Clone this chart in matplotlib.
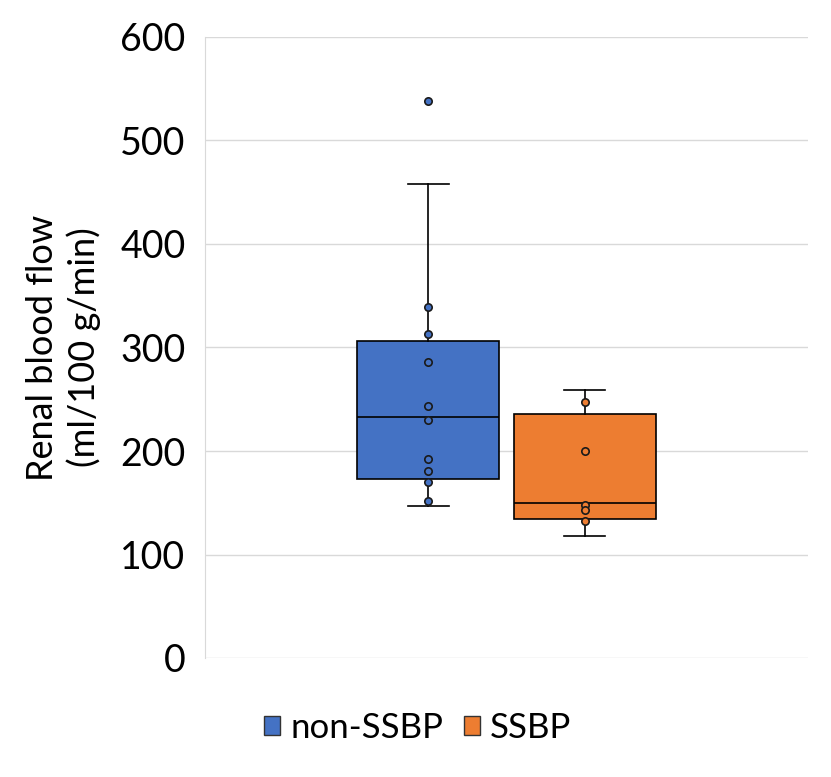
"""Renal blood flow box plot: non-SSBP vs SSBP (Excel-style box & whisker)."""
import matplotlib
matplotlib.use("Agg")
import matplotlib.pyplot as plt
from matplotlib.patches import Patch

GROUPS = ["non-SSBP", "SSBP"]
COLORS = ["#4472C4", "#ED7D31"]

# box statistics (whisker low, q1, median, q3, whisker high)
WHISLO = [147, 118]
Q1 = [173, 134]
MEDIAN = [233, 150]
Q3 = [306, 236]
WHISHI = [458, 259]

# individual points
NON_SSBP_PTS = [538, 339, 313, 286, 243, 230, 192, 181, 170, 152]
SSBP_PTS = [247, 200, 148, 143, 132]
POINTS = [NON_SSBP_PTS, SSBP_PTS]

YTICKS = [0, 100, 200, 300, 400, 500, 600]

plt.rcParams["font.family"] = ["Lato", "DejaVu Sans"]

fig = plt.figure(figsize=(8.31, 7.77), dpi=100)
ax = fig.add_axes([205 / 831, 1 - 658 / 777, 603 / 831, 621 / 777])

stats = []
for i in range(len(GROUPS)):
    stats.append({"whislo": WHISLO[i], "q1": Q1[i], "med": MEDIAN[i],
                  "q3": Q3[i], "whishi": WHISHI[i], "fliers": []})

positions = [1, 2]
bp = ax.bxp(stats, positions=positions, widths=0.91, patch_artist=True,
            showfliers=False, capwidths=0.26,
            boxprops=dict(edgecolor="black", linewidth=1.2),
            medianprops=dict(color="black", linewidth=1.2),
            whiskerprops=dict(color="black", linewidth=1.2),
            capprops=dict(color="black", linewidth=1.2))
for patch, c in zip(bp["boxes"], COLORS):
    patch.set_facecolor(c)

for pos, pts, c in zip(positions, POINTS, COLORS):
    ax.scatter([pos] * len(pts), pts, s=28, facecolor=c, edgecolor="#1a1a1a",
               linewidth=1.2, zorder=5)

ax.set_xlim(-0.43, 3.43)
ax.set_ylim(0, 600)
ax.set_yticks(YTICKS)
ax.set_xticks([])
ax.tick_params(axis="y", length=0, labelsize=27, pad=14)
ax.yaxis.grid(True, color="#d9d9d9", linewidth=1)
ax.set_axisbelow(True)
for side in ["top", "right", "bottom"]:
    ax.spines[side].set_visible(False)
ax.spines["left"].set_color("#d9d9d9")

ax.set_ylabel("Renal blood flow\n(ml/100 g/min)", fontsize=26, labelpad=14,
              linespacing=1.25)

handles = [Patch(facecolor=c, edgecolor="#333333", label=g)
           for g, c in zip(GROUPS, COLORS)]
fig.legend(handles=handles, loc="center", bbox_to_anchor=(418 / 831, 1 - 728 / 777),
           ncol=2, frameon=False, fontsize=25, handlelength=0.45, handleheight=0.45,
           handletextpad=0.3, columnspacing=0.6)

fig.savefig("out.png", dpi=100)
